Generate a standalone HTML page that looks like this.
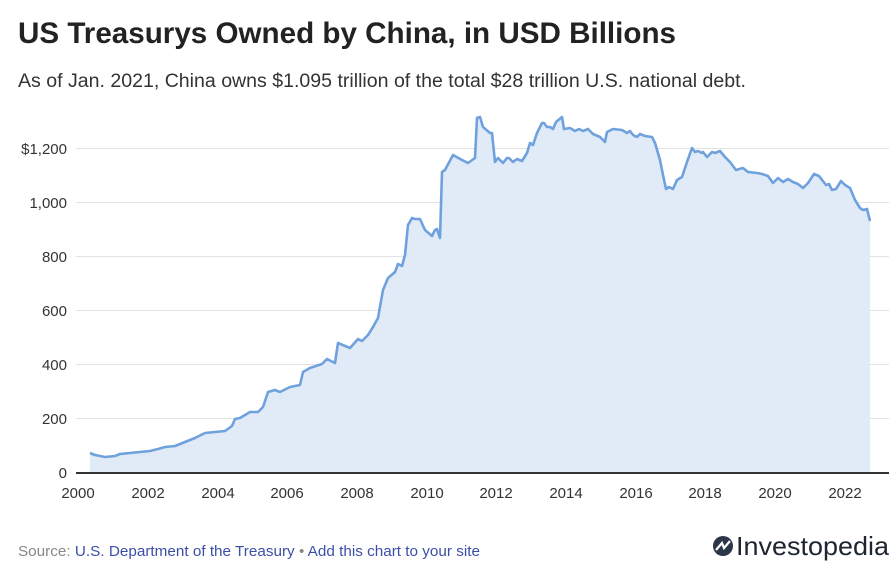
<!DOCTYPE html>
<html><head><meta charset="utf-8"><style>
html,body{margin:0;padding:0;background:#fff;}
svg{display:block;font-family:"Liberation Sans",sans-serif;}
</style></head><body>
<svg width="889" height="567" viewBox="0 0 889 567" xmlns="http://www.w3.org/2000/svg">
<text x="18" y="43" font-size="30" font-weight="bold" fill="#222" textLength="658" lengthAdjust="spacingAndGlyphs">US Treasurys Owned by China, in USD Billions</text>
<text x="18" y="87" font-size="19" fill="#333" textLength="728" lengthAdjust="spacingAndGlyphs">As of Jan. 2021, China owns $1.095 trillion of the total $28 trillion U.S. national debt.</text>
<g stroke="#e2e2e2" stroke-width="1">
<line x1="76" x2="889" y1="148.5" y2="148.5"/>
<line x1="76" x2="889" y1="202.5" y2="202.5"/>
<line x1="76" x2="889" y1="256.5" y2="256.5"/>
<line x1="76" x2="889" y1="310.5" y2="310.5"/>
<line x1="76" x2="889" y1="364.5" y2="364.5"/>
<line x1="76" x2="889" y1="418.5" y2="418.5"/>
</g>
<g font-size="15" fill="#333" text-anchor="end">
<text x="67" y="154">$1,200</text>
<text x="67" y="208">1,000</text>
<text x="67" y="262">800</text>
<text x="67" y="316">600</text>
<text x="67" y="370">400</text>
<text x="67" y="424">200</text>
<text x="67" y="478">0</text>
</g>
<polygon fill="#e1ebf8" points="90,473 90,453 95,455 105,457 115,456 120,454 130,453 140,452 150,451 158,449 165,447 175,446 185,442 195,438 205,433 215,432 225,431 232,426 235,419 240,418 250,412 258,412 263,407 268,392 275,390 280,392 290,387 300,385 303,372 310,368 322,364 327,359 335,363 338,343 350,348 358,339 362,341 368,335 373,327 378,318 383,290 388,278 395,272 398,264 402,266 405,255 408,225 412,218 415,219 420,219 425,230 432,236 435,230 437,229 440,238 442,172 445,170 453,155 462,160 468,163 475,158 477,118 480,117 483,127 490,133 492,133 495,162 498,158 503,163 507,158 509,158 513,162 517,159 522,161 527,153 530,143 533,145 537,133 542,123 544,123 547,127 550,127 553,129 556,122 562,117 564,129 570,128 575,131 579,129 583,131 588,129 593,134 600,137 605,142 607,132 613,129 622,130 627,133 630,131 633,135 637,137 640,134 645,136 652,137 655,143 660,160 663,175 666,189 669,187 673,189 677,180 682,177 687,162 692,148 695,152 698,151 702,153 703,152 707,157 712,152 715,153 720,151 725,157 730,162 736,170 743,168 748,172 757,173 762,174 768,176 773,183 778,178 783,182 788,179 793,182 798,184 803,188 808,183 814,174 819,176 826,185 829,184 832,190 836,189 841,181 845,185 850,188 855,200 860,208 863,210 867,209 870,221 870,473"/>
<polyline fill="none" stroke="#6fa1dd" stroke-width="2.6" stroke-linejoin="round" points="90,453 95,455 105,457 115,456 120,454 130,453 140,452 150,451 158,449 165,447 175,446 185,442 195,438 205,433 215,432 225,431 232,426 235,419 240,418 250,412 258,412 263,407 268,392 275,390 280,392 290,387 300,385 303,372 310,368 322,364 327,359 335,363 338,343 350,348 358,339 362,341 368,335 373,327 378,318 383,290 388,278 395,272 398,264 402,266 405,255 408,225 412,218 415,219 420,219 425,230 432,236 435,230 437,229 440,238 442,172 445,170 453,155 462,160 468,163 475,158 477,118 480,117 483,127 490,133 492,133 495,162 498,158 503,163 507,158 509,158 513,162 517,159 522,161 527,153 530,143 533,145 537,133 542,123 544,123 547,127 550,127 553,129 556,122 562,117 564,129 570,128 575,131 579,129 583,131 588,129 593,134 600,137 605,142 607,132 613,129 622,130 627,133 630,131 633,135 637,137 640,134 645,136 652,137 655,143 660,160 663,175 666,189 669,187 673,189 677,180 682,177 687,162 692,148 695,152 698,151 702,153 703,152 707,157 712,152 715,153 720,151 725,157 730,162 736,170 743,168 748,172 757,173 762,174 768,176 773,183 778,178 783,182 788,179 793,182 798,184 803,188 808,183 814,174 819,176 826,185 829,184 832,190 836,189 841,181 845,185 850,188 855,200 860,208 863,210 867,209 870,221"/>
<line x1="76" x2="889" y1="473" y2="473" stroke="#333" stroke-width="2"/>
<g font-size="15" fill="#333" text-anchor="middle">
<text x="78" y="498">2000</text>
<text x="148" y="498">2002</text>
<text x="218" y="498">2004</text>
<text x="287" y="498">2006</text>
<text x="357" y="498">2008</text>
<text x="427" y="498">2010</text>
<text x="496" y="498">2012</text>
<text x="566" y="498">2014</text>
<text x="636" y="498">2016</text>
<text x="705" y="498">2018</text>
<text x="775" y="498">2020</text>
<text x="845" y="498">2022</text>
</g>
<text x="18" y="556" font-size="15" fill="#888" textLength="462" lengthAdjust="spacingAndGlyphs">Source: <tspan fill="#3c4fa8">U.S. Department of the Treasury</tspan> • <tspan fill="#3c4fa8">Add this chart to your site</tspan></text>
<circle cx="723" cy="546" r="10" fill="#2b3648"/>
<path d="M716 550 L722 543 L724 548 L730 541" stroke="#fff" stroke-width="2.2" fill="none"/>
<text x="736" y="555" font-size="26" fill="#1e2530" textLength="153" lengthAdjust="spacingAndGlyphs">Investopedia</text>
</svg>
</body></html>
